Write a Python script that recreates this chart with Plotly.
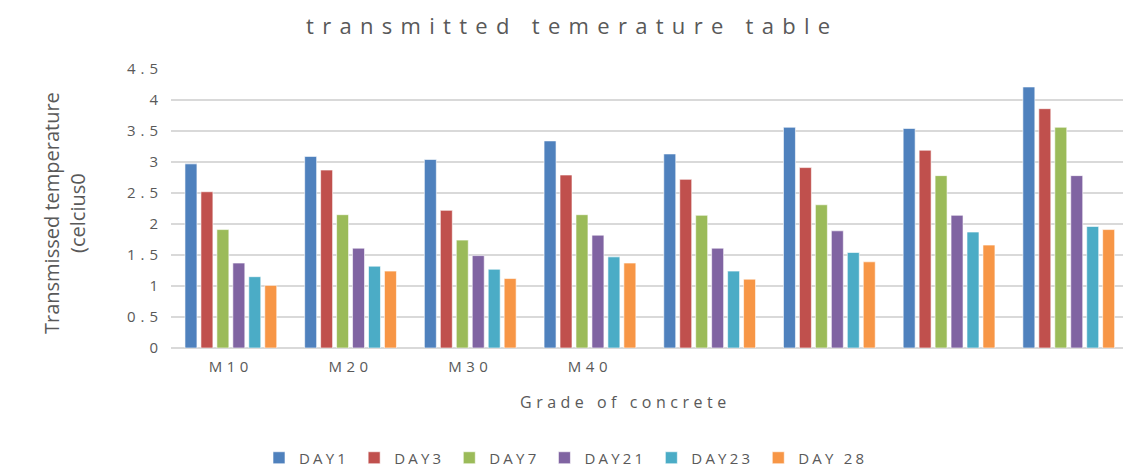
import plotly.graph_objects as go

groups = ["G1", "G2", "G3", "G4", "G5", "G6", "G7", "G8"]
group_labels = ["M10", "M20", "M30", "M40", "", "", "", ""]
series_names = ["DAY1", "DAY3", "DAY7", "DAY21", "DAY23", "DAY 28"]
day1 = [2.97, 3.09, 3.04, 3.34, 3.13, 3.56, 3.54, 4.21]
day3 = [2.52, 2.87, 2.22, 2.79, 2.72, 2.91, 3.19, 3.86]
day7 = [1.91, 2.15, 1.74, 2.15, 2.14, 2.31, 2.78, 3.56]
day21 = [1.37, 1.61, 1.49, 1.82, 1.61, 1.89, 2.14, 2.78]
day23 = [1.15, 1.32, 1.27, 1.47, 1.24, 1.54, 1.87, 1.96]
day28 = [1.01, 1.24, 1.12, 1.37, 1.11, 1.39, 1.66, 1.91]
y_ticks = [0, 0.5, 1, 1.5, 2, 2.5, 3, 3.5, 4, 4.5]
y_tick_labels = ["0", "0.5", "1", "1.5", "2", "2.5", "3", "3.5", "4", "4.5"]

colors = ["#4F81BD", "#C0504D", "#9BBB59", "#8064A2", "#4BACC6", "#F79646"]
series = [day1, day3, day7, day21, day23, day28]

FONT = "Open Sans"
GREY = "#595959"

def spaced(t, px):
    return f'<span style="letter-spacing:{px}px">{t}</span>'

L, R, T, B = 171, 0, 69, 121
PW = 1123 - L - R
PH = 469 - T - B

fig = go.Figure()
for name, vals, c in zip(series_names, series, colors):
    fig.add_trace(go.Bar(
        x=groups, y=vals, name=spaced(name, 3.2),
        marker=dict(color=c, line=dict(color="white", width=0.6)),
    ))

fig.update_layout(
    width=1123, height=469,
    paper_bgcolor="white", plot_bgcolor="white",
    margin=dict(l=L, r=R, t=T, b=B, autoexpand=False),
    barmode="group", bargap=0.2, bargroupgap=0.25,
    font=dict(family=FONT, color=GREY, size=14),
    showlegend=True,
    legend=dict(orientation="h", x=(566 - L) / PW, xanchor="center",
                y=-(458 - 348) / PH, yanchor="middle",
                font=dict(size=15, color=GREY), itemwidth=30, traceorder="normal"),
    xaxis=dict(
        type="category", tickmode="array", tickvals=groups,
        ticktext=[spaced(t, 4.5) for t in group_labels],
        range=[-0.5, -0.5 + PW / 119.7],
        showgrid=False, showline=False, ticks="", ticklabelstandoff=8,
        tickfont=dict(size=15, color=GREY),
    ),
    yaxis=dict(
        range=[0, 4.5], tickmode="array", tickvals=y_ticks,
        ticktext=[spaced(t, 5) for t in y_tick_labels],
        showgrid=True, gridcolor="#d9d9d9", gridwidth=1.5, zeroline=True,
        zerolinecolor="#d9d9d9", zerolinewidth=1.5, showline=False, ticks="",
        ticklabelstandoff=7, tickfont=dict(size=15, color=GREY),
    ),
    annotations=[
        dict(text=spaced("transmitted temerature table", 8.3), xref="paper", yref="paper",
             x=(572 - L) / PW, y=1 + (T - 25) / PH,
             xanchor="center", yanchor="middle", showarrow=False,
             font=dict(size=22, color=GREY, family=FONT)),
        dict(text=spaced("Grade of concrete", 4.5), xref="paper", yref="paper",
             x=(625 - L) / PW, y=-(402 - 348) / PH, xanchor="center", yanchor="middle",
             showarrow=False, font=dict(size=16, color=GREY, family=FONT)),
        dict(text="Transmissed temperature<br>(celcius0", xref="paper", yref="paper",
             x=-(L - 64) / PW, y=(348 - 213) / PH, xanchor="center", yanchor="middle",
             textangle=-90, showarrow=False, align="center",
             font=dict(size=20, color=GREY, family=FONT)),
    ],
)

fig.write_html("out.html", config={"displayModeBar": False},
               post_script="document.body.style.margin='0';document.body.style.padding='0';")
